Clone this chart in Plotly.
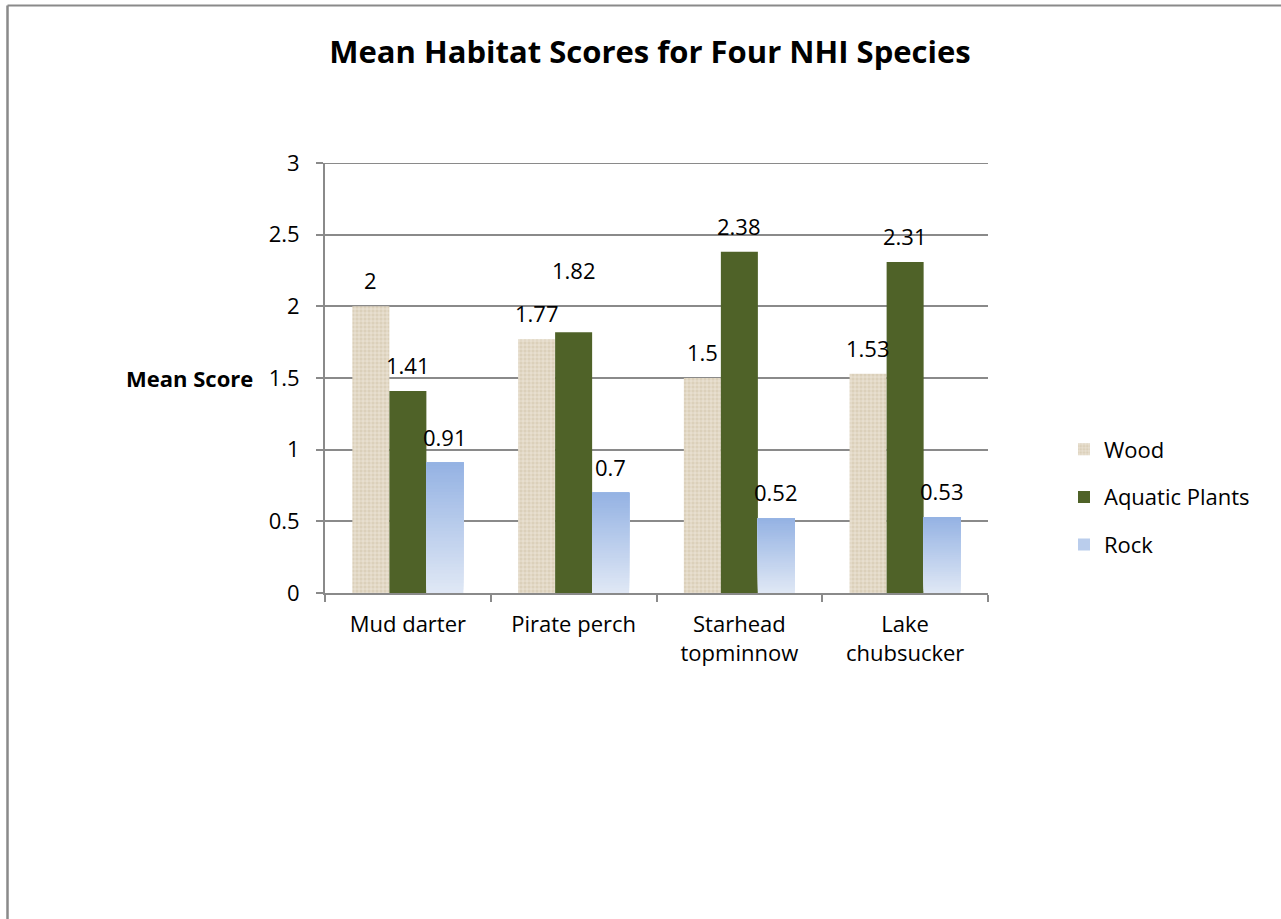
import plotly.graph_objects as go

# Data
species = ["Mud darter", "Pirate perch", "Starhead<br>topminnow", "Lake<br>chubsucker"]
wood = [2.00, 1.77, 1.50, 1.53]
aquatic_plants = [1.41, 1.82, 2.38, 2.31]
rock = [0.91, 0.70, 0.52, 0.53]
y_ticks = [0, 0.5, 1, 1.5, 2, 2.5, 3]

# Layout geometry (pixels)
W, H = 1281, 919
ML, MR, MT, MB = 325, 293, 163, 326
PLOT_W = W - ML - MR
PLOT_H = H - MT - MB
BARGAP = 0.33
FONT = "'Open Sans', Lato, sans-serif"
FS = 22

GREEN = "#4f6228"
ROCK_TOP = (0x94, 0xB2, 0xE3)
ROCK_BOTTOM = (0xE0, 0xE8, 0xF5)
AXIS = "#8a8a8a"

fig = go.Figure()

fig.add_trace(go.Bar(
    name="Wood", x=species, y=wood, offsetgroup="wood", legendgroup="wood",
    marker=dict(
        color="#e0d6c2",
        line=dict(width=0),
        pattern=dict(shape="+", fgcolor="#f1ebe1", bgcolor="#dbd0ba",
                     size=4, solidity=0.3, fillmode="replace"),
    ),
))

fig.add_trace(go.Bar(
    name="Aquatic Plants", x=species, y=aquatic_plants, offsetgroup="plants",
    legendgroup="plants", marker=dict(color=GREEN, line=dict(width=0)),
))

# Rock bars: vertical gradient from overlapping layers, each running from
# its own base up to the bar top; later layers cover the earlier ones.
N_LAYERS = 40


def mix(a, b, t):
    return "rgb(%d,%d,%d)" % tuple(round(a[k] + (b[k] - a[k]) * t) for k in range(3))


for i in range(N_LAYERS):
    frac = i / N_LAYERS
    fig.add_trace(go.Bar(
        name="Rock", x=species,
        y=[v * (1 - frac) for v in rock],
        base=[v * frac for v in rock],
        offsetgroup="rock", legendgroup="rock", showlegend=False,
        marker=dict(color=mix(ROCK_BOTTOM, ROCK_TOP, (i + 0.5) / N_LAYERS),
                    line=dict(width=0)),
        hoverinfo="skip",
    ))

# Legend entry for rock
fig.add_trace(go.Bar(
    name="Rock", x=[species[0]], y=[None], offsetgroup="rock", legendgroup="rock",
    marker=dict(color=mix(ROCK_BOTTOM, ROCK_TOP, 0.5), line=dict(width=0)),
    showlegend=True,
))

# Value labels above each bar
slot = PLOT_W / len(species)
bar_w = slot * (1 - BARGAP) / 3
series = [("wood", wood), ("plants", aquatic_plants), ("rock", rock)]
label_lift = {("plants", 1): 62}
for s_idx, (key, vals) in enumerate(series):
    for c_idx, v in enumerate(vals):
        fig.add_annotation(
            x=species[c_idx], y=v, xref="x", yref="y",
            text=f"{v:g}", showarrow=False,
            xshift=(s_idx - 1) * bar_w, yshift=label_lift.get((key, c_idx), 26),
            yanchor="middle", xanchor="center",
            font=dict(family=FONT, size=FS, color="#000000"),
        )

# Axis title drawn horizontally
fig.add_annotation(
    x=(255 - ML) / PLOT_W, y=1.5, xref="paper", yref="y", text="<b>Mean Score</b>",
    showarrow=False, xanchor="right", yanchor="middle",
    font=dict(family=FONT, size=FS, color="#000000"),
)

# Top gridline at the axis maximum (sits on the plot edge)
fig.add_shape(type="line", xref="paper", yref="y", x0=0, x1=1,
              y0=y_ticks[-1], y1=y_ticks[-1], layer="below",
              line=dict(color=AXIS, width=2))

# Outer frame (top and left edges)
left_px, top_px = 7.5, 5.5
fig.add_shape(type="line", xref="paper", yref="paper",
              x0=(left_px - ML) / PLOT_W, x1=(W - ML) / PLOT_W,
              y0=(H - MB - top_px) / PLOT_H, y1=(H - MB - top_px) / PLOT_H,
              line=dict(color=AXIS, width=2))
fig.add_shape(type="line", xref="paper", yref="paper",
              x0=(left_px - ML) / PLOT_W, x1=(left_px - ML) / PLOT_W,
              y0=(H - MB - top_px) / PLOT_H, y1=-MB / PLOT_H,
              line=dict(color=AXIS, width=2.5))

fig.update_layout(
    width=W, height=H,
    margin=dict(l=ML, r=MR, t=MT, b=MB),
    paper_bgcolor="white", plot_bgcolor="white",
    barmode="group", bargap=BARGAP, bargroupgap=0,
    font=dict(family=FONT, size=FS, color="#000000"),
    title=dict(text="<b>Mean Habitat Scores for Four NHI Species</b>",
               x=650 / W, xanchor="center", y=1 - 52 / H, yanchor="middle",
               font=dict(family=FONT, size=31, color="#000000")),
    showlegend=True,
    legend=dict(x=(1064 - ML) / PLOT_W, y=(H - MB - 497) / PLOT_H,
                xanchor="left", yanchor="middle", traceorder="grouped",
                tracegroupgap=16, itemwidth=30, font=dict(family=FONT, size=FS),
                bgcolor="rgba(0,0,0,0)"),
    xaxis=dict(showline=True, linecolor=AXIS, linewidth=2,
               ticks="outside", tickson="boundaries", ticklen=7,
               tickcolor=AXIS, tickwidth=2, showgrid=False,
               tickfont=dict(family=FONT, size=FS), ticklabelstandoff=11),
    yaxis=dict(range=[0, 3], tickvals=y_ticks, ticktext=[f"{t:g}" for t in y_ticks],
               showline=True, linecolor=AXIS, linewidth=2,
               ticks="outside", ticklen=7, tickcolor=AXIS, tickwidth=2,
               showgrid=True, gridcolor=AXIS, gridwidth=2,
               zeroline=False, tickfont=dict(family=FONT, size=FS),
               ticklabelstandoff=12),
)

fig.write_html("out.html")
